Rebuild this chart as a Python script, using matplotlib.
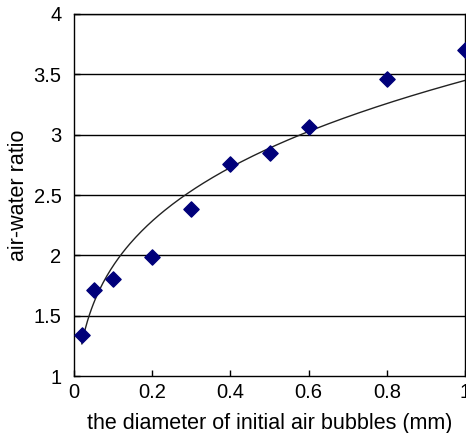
import matplotlib.pyplot as plt
import numpy as np

plt.rcParams['font.family'] = ['Liberation Sans', 'DejaVu Sans']

# bubble diameter (mm) and measured air-water ratio
diameter = [0.02, 0.05, 0.1, 0.2, 0.3, 0.4, 0.5, 0.6, 0.8, 1.0]
ratio = [1.34, 1.71, 1.80, 1.99, 2.38, 2.76, 2.85, 3.06, 3.46, 3.70]

xticks = [0, 0.2, 0.4, 0.6, 0.8, 1]
xticklabels = ['0', '0.2', '0.4', '0.6', '0.8', '1']
yticks = [1, 1.5, 2, 2.5, 3, 3.5, 4]
yticklabels = ['1', '1.5', '2', '2.5', '3', '3.5', '4']

# power trendline fitted to the points (like a spreadsheet trendline)
b, ln_a = np.polyfit(np.log(diameter), np.log(ratio), 1)
xs = np.linspace(min(diameter), max(diameter), 200)
ys = np.exp(ln_a) * xs ** b

fig = plt.figure(figsize=(4.66, 4.33), dpi=100)
ax = fig.add_axes([0.1588, 0.1316, 0.8392, 0.8361])

for y in yticks[1:]:
    ax.axhline(y, color='black', lw=1.0, zorder=1)

ax.plot(xs, ys, color='#222222', lw=1.0, zorder=2)
ax.scatter(diameter, ratio, marker='D', s=60, color='#00007a', zorder=3, clip_on=False)

ax.set_xlim(0, 1)
ax.set_ylim(1, 4)
ax.set_xticks(xticks)
ax.set_xticklabels(xticklabels)
ax.set_yticks(yticks)
ax.set_yticklabels(yticklabels)
ax.tick_params(direction='in', length=4, width=1, labelsize=14.5, colors='black')
ax.tick_params(axis='x', pad=5)
ax.tick_params(axis='y', pad=9)
for s in ax.spines.values():
    s.set_linewidth(1.0)

ax.set_xlabel('the diameter of initial air bubbles (mm)', fontsize=15.5, labelpad=8)
ax.set_ylabel('air-water ratio', fontsize=15.5, labelpad=3)

plt.savefig('out.png', dpi=100)
